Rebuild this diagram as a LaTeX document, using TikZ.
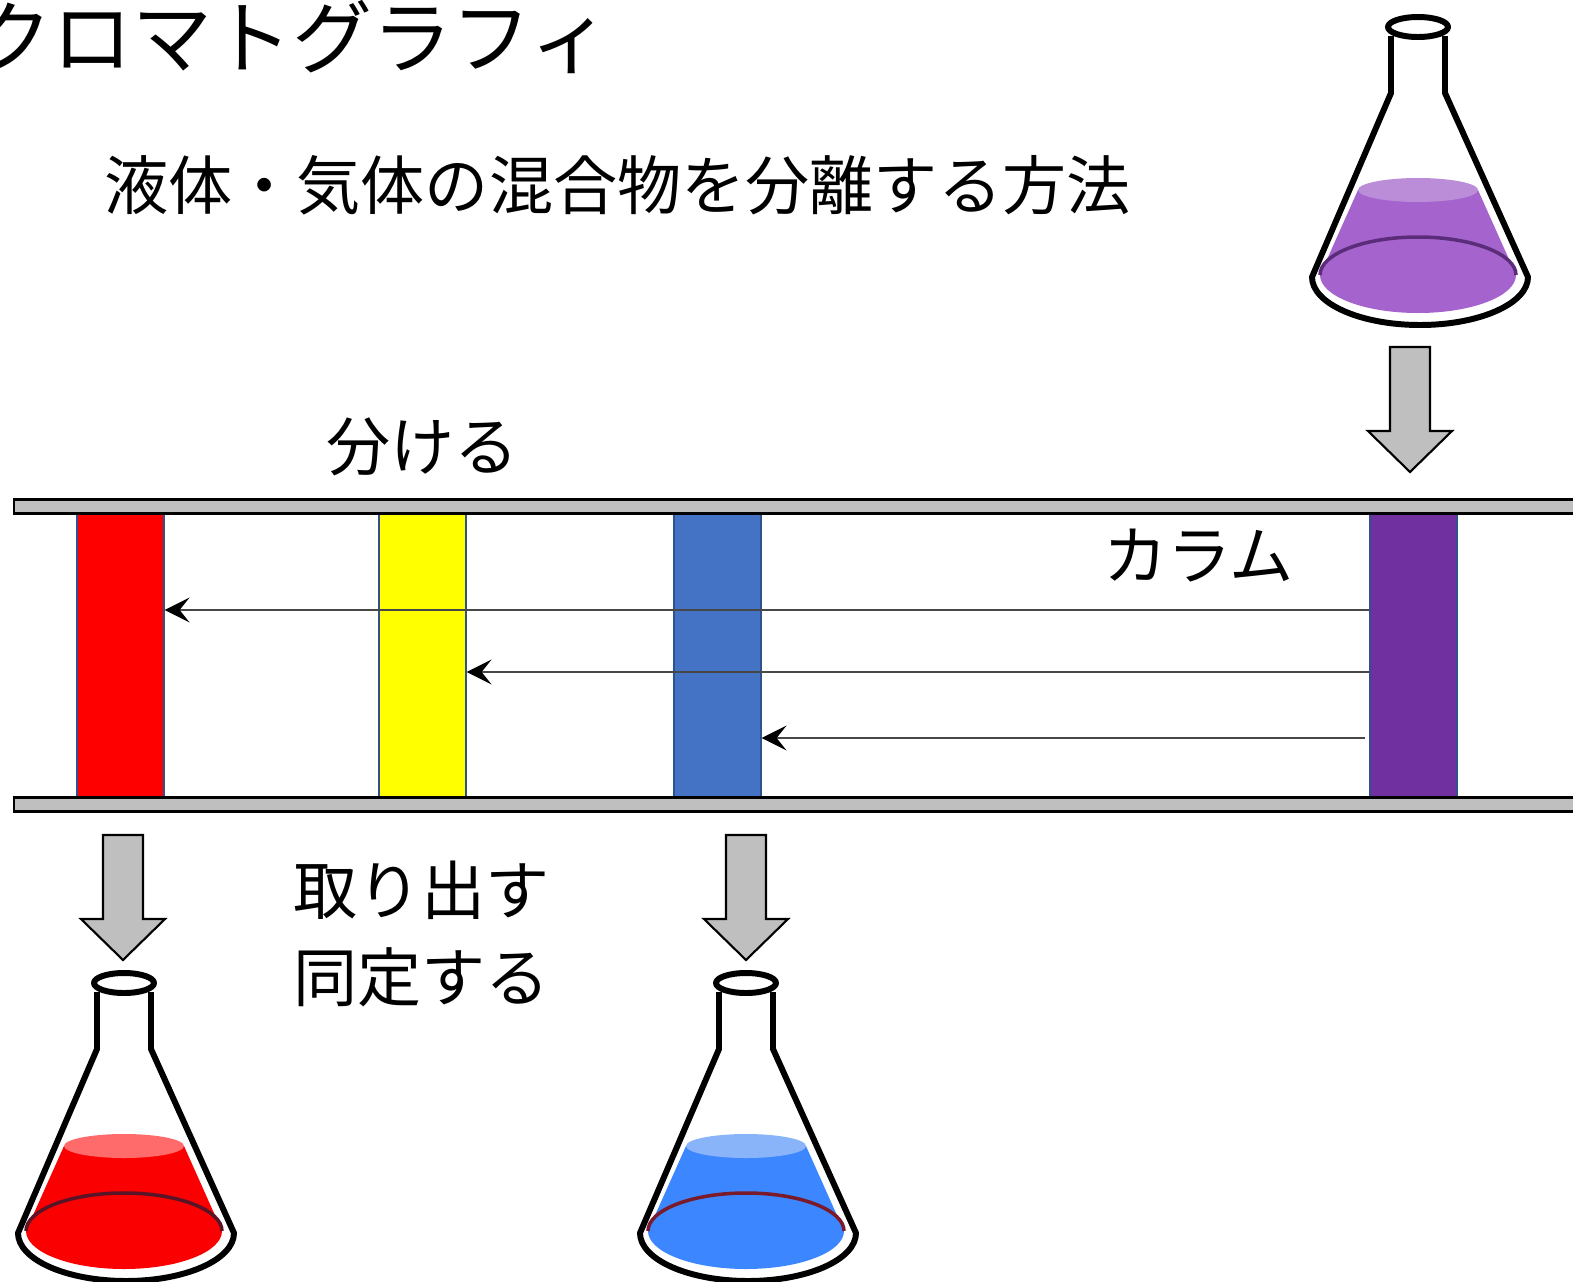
\documentclass[tikz,border=0pt]{standalone}
\usepackage{fontspec}
\setmainfont{Noto Sans CJK JP}
\usetikzlibrary{arrows.meta}

\definecolor{bargray}{HTML}{BFBFBF}
\definecolor{bandline}{HTML}{2F528F}
\definecolor{flowline}{HTML}{474747}
\definecolor{bandred}{HTML}{FF0000}
\definecolor{bandyellow}{HTML}{FFFF00}
\definecolor{bandblue}{HTML}{4472C4}
\definecolor{bandpurple}{HTML}{7030A0}
\definecolor{purpleliq}{HTML}{A463CD}
\definecolor{purpletop}{HTML}{BB8DD9}
\definecolor{purplerim}{HTML}{5B2C7A}
\definecolor{redliq}{HTML}{FA0000}
\definecolor{redtop}{HTML}{FF6B6B}
\definecolor{redrim}{HTML}{5A1428}
\definecolor{blueliq}{HTML}{3C87FF}
\definecolor{bluetop}{HTML}{8AB4FA}
\definecolor{bluerim}{HTML}{7A1A2A}

\begin{document}
\begin{tikzpicture}
    [x=0.02cm,y=-0.02cm,
     caption/.style={font=\fontsize{36.5}{50}\selectfont,anchor=west,inner sep=0pt},
     band/.style={draw=bandline,line width=0.7pt,minimum width=1.74cm,minimum height=5.68cm,inner sep=0pt},
     wall/.style={draw=black,fill=bargray,line width=1.7pt},
     flow/.style={draw=flowline,line width=1pt,-{Stealth[length=0.5cm,width=0.5cm,inset=0.2cm,black]}},
     glass/.style={line width=3.4pt,line join=round},
     pics/downarrow/.style={code={
       \draw[draw=black,fill=bargray,line width=1.2pt]
         (-20,0) -- (20,0) -- (20,84) -- (42,84) -- (0,125) -- (-42,84) -- (-20,84) -- cycle;
     }},
     pics/flask/.style n args={3}{code={
       \fill[#1] (-60,163) -- (-98,248) arc[start angle=180,end angle=0,x radius=98,y radius=38]
         -- (60,163) -- cycle;
       \fill[#2] (0,163) ellipse[x radius=60,y radius=12];
       \draw[#3,line width=2pt] (-98,248) arc[start angle=180,end angle=360,x radius=98,y radius=38];
       \draw[glass] (-27,9) -- (-27,66) -- (-106,250)
         arc[start angle=180,end angle=0,x radius=108,y radius=48] -- (27,66) -- (27,9);
       \draw[glass,fill=white] (0,0) ellipse[x radius=30,y radius=10];
     }}]
  \useasboundingbox (0,0) rectangle (1573,1282);

  \node[font=\fontsize{45.5}{54}\selectfont,anchor=west,inner sep=0pt] (title) at (-28,37) {クロマトグラフィ};
  \node[caption] (goal) at (104,185) {液体・気体の混合物を分離する方法};
  \node[caption] (split) at (326,447) {分ける};
  \node[caption] (column) at (1103,556) {カラム};
  \node[caption,align=left] (take) at (293,934) {取り出す\\同定する};

  % bands inside the column
  \node[band,fill=bandred] (red) at (120.5,655) {};
  \node[band,fill=bandyellow] (yellow) at (422.5,655) {};
  \node[band,fill=bandblue] (blue) at (717.5,655) {};
  \node[band,fill=bandpurple] (purple) at (1413.5,655) {};

  \draw[wall] (14,499) rectangle (1600,513);
  \draw[wall] (14,797) rectangle (1600,811);

  \coordinate (s1) at (purple.west |- 0,610);
  \coordinate (s2) at (purple.west |- 0,672);
  \coordinate (s3) at ([xshift=-0.08cm]purple.west |- 0,738);
  \draw[flow] (s1) -- (s1 -| red.east);
  \draw[flow] (s2) -- (s2 -| yellow.east);
  \draw[flow] (s3) -- (s3 -| blue.east);

  \pic at (1410,347) {downarrow};
  \pic at (123,835) {downarrow};
  \pic at (746,835) {downarrow};

  \pic at (1418,27) {flask={purpleliq}{purpletop}{purplerim}};
  \pic at (124,983) {flask={redliq}{redtop}{redrim}};
  \pic at (746,983) {flask={blueliq}{bluetop}{bluerim}};
\end{tikzpicture}
\end{document}
